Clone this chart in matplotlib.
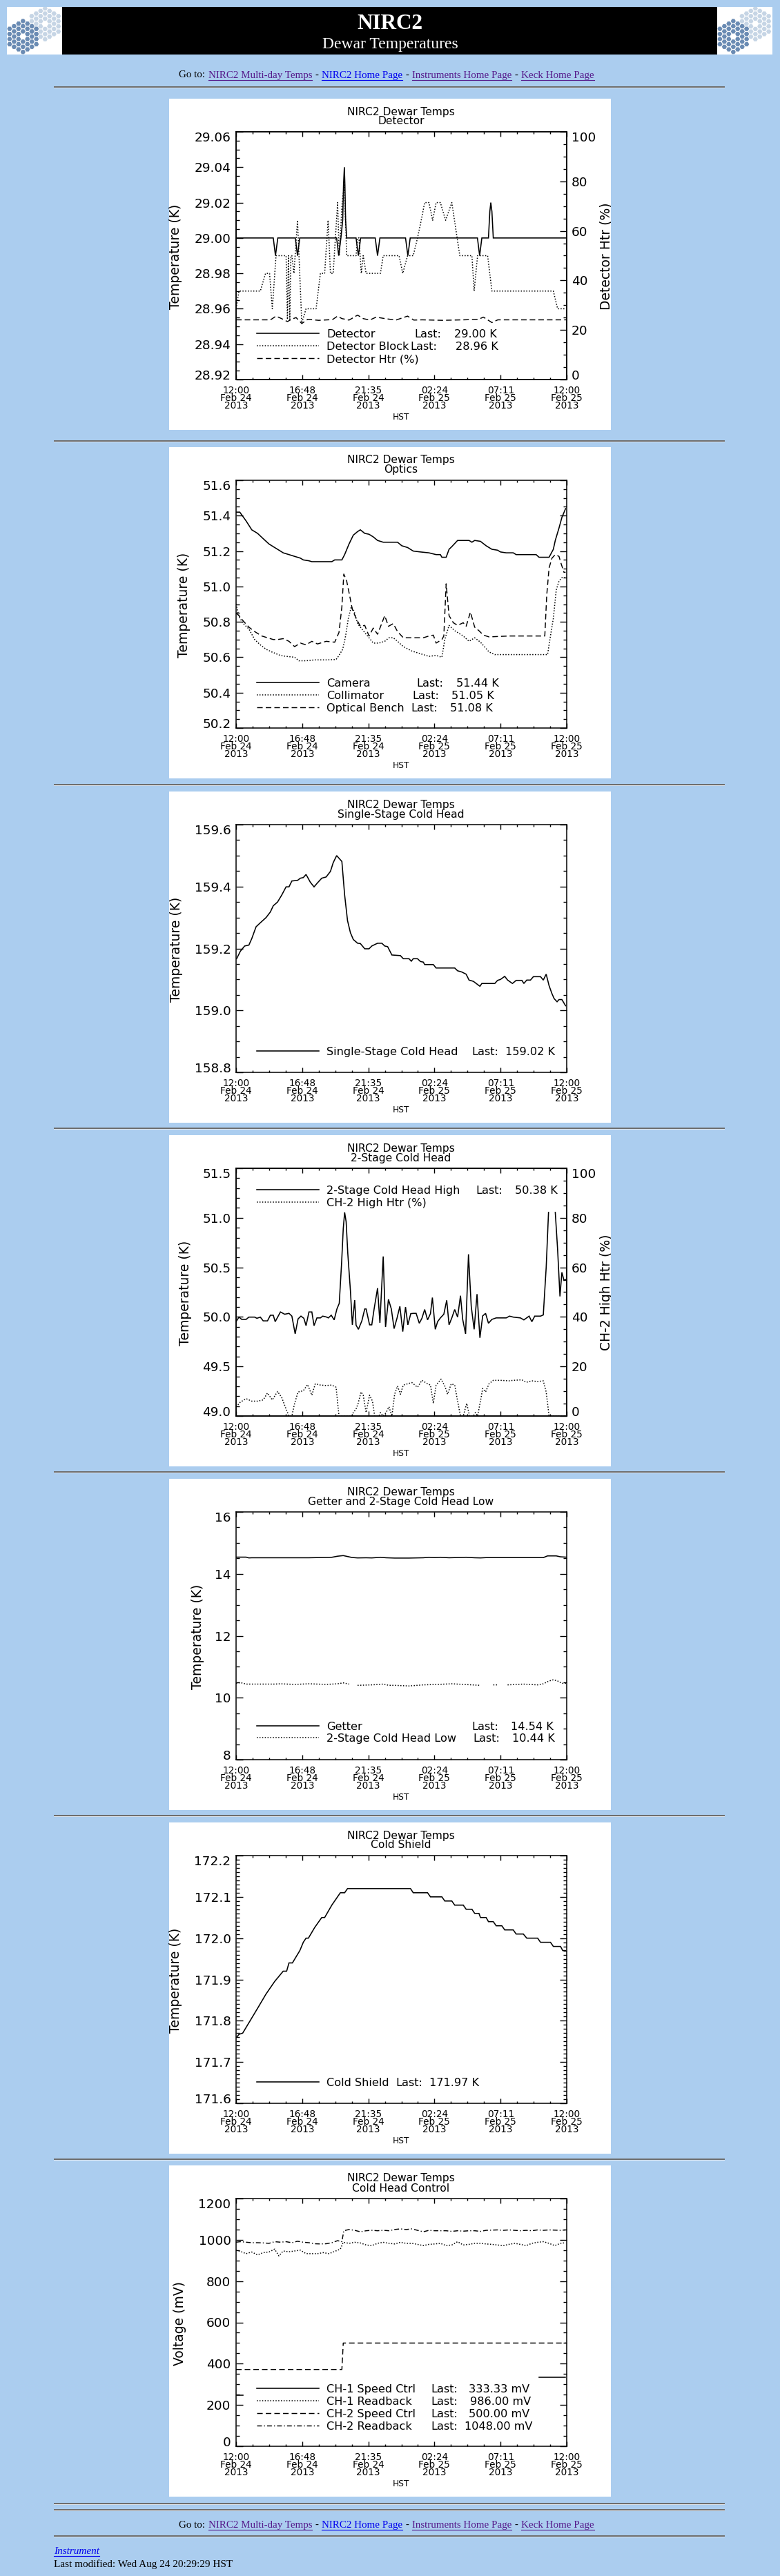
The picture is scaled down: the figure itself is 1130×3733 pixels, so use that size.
import numpy as np
import matplotlib
matplotlib.use('Agg')
import matplotlib.pyplot as plt
from matplotlib.patches import Rectangle, RegularPolygon
from matplotlib.lines import Line2D
from matplotlib.transforms import blended_transform_factory, offset_copy, Bbox, TransformedBbox

nan = np.nan

# time axis: hours after 12:00 HST, Feb 24 2013
xtick_hours = [0, 4.8, 9.6, 14.4, 19.2, 24]
xtick_time = ['12:00', '16:48', '21:35', '02:24', '07:11', '12:00']
xtick_day = ['Feb 24', 'Feb 24', 'Feb 24', 'Feb 25', 'Feb 25', 'Feb 25']
xtick_year = ['2013'] * 6

# ---- readings, (hours, value) ----
detector = [(0, 29.00), (2.70, 29.00), (2.86, 28.99), (3.03, 29.00), (4.30, 29.00), (4.46, 28.99), (4.62, 29.00),
            (7.30, 29.00), (7.45, 28.99), (7.61, 29.00), (7.74, 29.01), (7.80, 29.03), (7.86, 29.04), (7.90, 29.03),
            (7.95, 29.01), (8.03, 29.00), (8.71, 29.00), (8.88, 28.99), (9.04, 29.00), (10.10, 29.00), (10.27, 28.99),
            (10.44, 29.00), (12.30, 29.00), (12.47, 28.99), (12.64, 29.00), (17.52, 29.00), (17.68, 28.99), (17.84, 29.00),
            (18.32, 29.00), (18.42, 29.015), (18.49, 29.02), (18.57, 29.015), (18.67, 29.00), (24.0, 29.00)]
det_block = [(0, 28.96), (0.21, 28.97), (1.76, 28.97), (2.14, 28.98), (2.43, 28.98), (2.63, 28.96), (2.90, 28.99),
             (3.63, 28.99), (3.73, 28.954), (3.80, 28.99), (3.90, 28.954), (3.98, 28.99), (4.05, 28.99), (4.20, 28.98),
             (4.46, 29.01), (4.77, 28.952), (5.08, 28.96), (5.81, 28.96), (6.12, 28.98), (6.43, 28.98), (6.68, 29.01),
             (6.85, 28.98), (7.05, 28.98), (7.37, 29.02), (7.49, 28.99), (7.70, 29.02), (7.86, 29.03), (8.03, 28.99),
             (8.71, 28.99), (8.82, 29.00), (8.92, 29.00), (9.09, 28.98), (9.23, 28.99), (9.44, 28.98), (10.48, 28.98),
             (10.68, 28.99), (11.83, 28.99), (12.10, 28.98), (12.45, 28.99), (12.86, 28.99), (13.17, 29.00), (13.44, 29.01),
             (13.69, 29.02), (14.00, 29.02), (14.27, 29.01), (14.52, 29.02), (14.83, 29.02), (15.21, 29.01), (15.66, 29.02),
             (16.24, 28.99), (17.12, 28.99), (17.28, 28.97), (17.53, 28.99), (18.05, 28.99), (18.26, 28.99), (18.57, 28.97),
             (23.03, 28.97), (23.34, 28.96), (23.96, 28.96)]
det_htr = [(0, 24.1), (2.5, 24.1), (2.9, 25.6), (3.3, 24.6), (3.73, 23.4), (4.05, 24.4), (4.36, 25.0), (4.77, 22.6),
           (5.2, 24.3), (6.0, 23.9), (7.0, 24.2), (7.37, 25.6), (7.68, 24.6), (8.2, 24.0), (8.82, 26.0), (9.23, 24.6),
           (9.7, 24.0), (10.17, 25.2), (10.8, 24.6), (11.6, 24.0), (12.45, 25.6), (12.9, 24.0), (13.5, 24.1), (15.0, 23.9),
           (16.5, 24.1), (17.6, 24.3), (17.95, 25.2), (18.57, 23.0), (19.0, 24.1), (24.0, 24.1)]

camera = [(0, 51.42), (0.27, 51.42), (0.73, 51.37), (1.14, 51.32), (1.56, 51.30), (1.97, 51.27), (2.39, 51.24),
          (2.80, 51.22), (3.22, 51.20), (3.42, 51.19), (3.84, 51.18), (4.25, 51.17), (4.67, 51.16), (4.88, 51.15),
          (5.29, 51.145), (5.50, 51.14), (6.12, 51.14), (6.95, 51.14), (7.16, 51.15), (7.68, 51.15), (7.88, 51.18),
          (8.20, 51.24), (8.51, 51.29), (8.82, 51.31), (9.02, 51.32), (9.34, 51.30), (9.65, 51.295), (9.96, 51.28),
          (10.27, 51.26), (10.68, 51.25), (11.31, 51.25), (11.72, 51.25), (12.03, 51.23), (12.45, 51.22), (12.86, 51.20),
          (13.38, 51.195), (14.00, 51.19), (14.52, 51.18), (14.83, 51.18), (14.94, 51.165), (15.25, 51.165), (15.46, 51.21),
          (15.66, 51.225), (16.08, 51.26), (16.91, 51.26), (17.12, 51.25), (17.32, 51.26), (17.74, 51.255), (18.15, 51.23),
          (18.57, 51.21), (18.98, 51.205), (19.19, 51.195), (19.61, 51.19), (20.12, 51.19), (20.33, 51.18), (21.78, 51.18),
          (21.99, 51.165), (22.72, 51.165), (23.03, 51.21), (23.17, 51.26), (23.44, 51.33), (23.65, 51.39), (23.92, 51.44)]
collimator = [(0, 50.90), (0.21, 50.83), (0.52, 50.79), (0.93, 50.76), (1.35, 50.70), (1.76, 50.67), (2.18, 50.645),
              (2.59, 50.63), (3.22, 50.61), (3.63, 50.605), (4.25, 50.60), (4.56, 50.58), (5.08, 50.58), (5.71, 50.585),
              (6.54, 50.585), (7.26, 50.587), (7.47, 50.61), (7.74, 50.645), (7.95, 50.72), (8.15, 50.82), (8.36, 50.885),
              (8.57, 50.86), (8.82, 50.79), (9.23, 50.75), (9.65, 50.71), (9.96, 50.68), (10.37, 50.68), (10.79, 50.69),
              (11.10, 50.71), (11.41, 50.71), (11.72, 50.69), (12.14, 50.66), (12.76, 50.635), (13.38, 50.62), (14.00, 50.605),
              (14.52, 50.61), (14.94, 50.60), (15.15, 50.70), (15.46, 50.78), (15.87, 50.75), (16.49, 50.72), (16.91, 50.69),
              (17.32, 50.71), (17.74, 50.685), (18.36, 50.63), (18.78, 50.615), (19.81, 50.615), (22.61, 50.615), (22.82, 50.72),
              (23.03, 50.82), (23.24, 50.98), (23.44, 51.03), (23.65, 51.05), (23.92, 51.05)]
optical_bench = [(0, 50.85), (0.21, 50.835), (0.52, 50.805), (0.93, 50.77), (1.35, 50.745), (1.87, 50.72), (2.28, 50.71),
                 (2.70, 50.70), (3.01, 50.70), (3.42, 50.705), (3.84, 50.69), (4.25, 50.66), (4.67, 50.68), (5.08, 50.67),
                 (5.50, 50.69), (5.91, 50.675), (6.54, 50.69), (7.16, 50.685), (7.47, 50.74), (7.68, 50.885), (7.82, 51.07),
                 (8.03, 51.03), (8.24, 50.95), (8.44, 50.87), (8.71, 50.82), (9.02, 50.775), (9.34, 50.78), (9.65, 50.72),
                 (9.96, 50.765), (10.27, 50.73), (10.52, 50.78), (10.79, 50.835), (11.06, 50.775), (11.41, 50.79), (11.72, 50.745),
                 (12.14, 50.71), (12.76, 50.71), (13.59, 50.71), (14.00, 50.72), (14.32, 50.725), (14.52, 50.68), (14.94, 50.70),
                 (15.08, 50.72), (15.25, 51.015), (15.46, 50.835), (15.77, 50.795), (16.08, 50.78), (16.49, 50.795), (16.70, 50.775),
                 (17.01, 50.855), (17.32, 50.77), (17.63, 50.75), (17.95, 50.725), (18.36, 50.715), (19.81, 50.72), (22.41, 50.72),
                 (22.55, 50.95), (22.72, 51.105), (22.93, 51.16), (23.17, 51.18), (23.44, 51.17), (23.59, 51.13), (23.80, 51.08),
                 (23.92, 51.08)]

single_stage = [(0.04, 159.167), (0.31, 159.191), (0.62, 159.208), (0.93, 159.211), (1.14, 159.232), (1.45, 159.27),
                (1.76, 159.283), (2.18, 159.30), (2.49, 159.318), (2.70, 159.338), (3.01, 159.35), (3.32, 159.373),
                (3.63, 159.399), (3.84, 159.399), (4.05, 159.418), (4.46, 159.42), (4.67, 159.427), (4.88, 159.429),
                (5.08, 159.439), (5.39, 159.414), (5.66, 159.399), (5.91, 159.412), (6.22, 159.427), (6.54, 159.431),
                (6.85, 159.449), (7.05, 159.477), (7.30, 159.50), (7.68, 159.481), (7.88, 159.373), (8.09, 159.29),
                (8.30, 159.251), (8.51, 159.229), (8.82, 159.217), (9.02, 159.216), (9.34, 159.199), (9.65, 159.199),
                (9.85, 159.208), (10.27, 159.217), (10.58, 159.217), (10.79, 159.208), (11.00, 159.206), (11.31, 159.179),
                (11.93, 159.177), (12.14, 159.167), (12.55, 159.167), (12.72, 159.159), (12.86, 159.167), (13.17, 159.167),
                (13.38, 159.158), (13.59, 159.156), (13.69, 159.148), (14.32, 159.148), (14.52, 159.137), (15.87, 159.137),
                (16.08, 159.128), (16.39, 159.124), (16.70, 159.117), (16.91, 159.098), (17.22, 159.094), (17.43, 159.087),
                (17.70, 159.078), (17.84, 159.087), (18.78, 159.087), (18.98, 159.097), (19.19, 159.10), (19.50, 159.11),
                (19.71, 159.098), (20.06, 159.087), (20.33, 159.097), (20.75, 159.097), (20.89, 159.087), (21.10, 159.098),
                (21.37, 159.098), (21.58, 159.109), (22.10, 159.109), (22.30, 159.098), (22.51, 159.117), (22.72, 159.08),
                (22.93, 159.054), (23.09, 159.038), (23.30, 159.028), (23.44, 159.035), (23.65, 159.035), (23.92, 159.015)]

two_stage_high = [(0, 49.952), (0.21, 49.998), (0.41, 49.975), (0.73, 49.975), (0.93, 49.998), (1.35, 49.998), (1.51, 49.986),
                  (1.76, 49.998), (1.97, 49.96), (2.28, 49.96), (2.49, 50.017), (2.70, 50.017), (2.84, 49.952), (3.22, 50.05),
                  (3.53, 50.027), (3.84, 50.036), (4.05, 50.008), (4.29, 49.829), (4.50, 49.98), (4.71, 50.008), (4.92, 49.986),
                  (5.08, 49.912), (5.29, 50.05), (5.50, 50.05), (5.66, 49.912), (5.87, 49.99), (6.12, 49.99), (6.29, 50.008),
                  (6.54, 50.0), (6.70, 49.99), (6.91, 50.017), (7.12, 49.97), (7.32, 50.08), (7.49, 50.137), (7.66, 50.544),
                  (7.78, 50.89), (7.88, 51.055), (7.99, 50.96), (8.11, 50.64), (8.30, 50.265), (8.44, 49.92), (8.61, 50.17),
                  (8.71, 49.917), (8.88, 49.875), (9.13, 49.96), (9.34, 50.08), (9.44, 50.08), (9.69, 49.92), (9.85, 49.92),
                  (10.02, 50.08), (10.27, 50.29), (10.44, 49.94), (10.68, 50.61), (10.85, 49.898), (11.06, 50.177), (11.27, 50.08),
                  (11.47, 49.882), (11.68, 49.986), (11.89, 50.107), (12.10, 49.852), (12.30, 50.10), (12.47, 49.92), (12.68, 50.033),
                  (12.88, 50.036), (13.07, 50.036), (13.30, 49.936), (13.49, 49.986), (13.69, 50.075), (13.90, 49.97), (14.11, 50.033),
                  (14.25, 50.195), (14.46, 49.875), (14.63, 49.952), (14.83, 49.99), (15.08, 50.027), (15.29, 50.168), (15.46, 49.92),
                  (15.66, 49.99), (15.87, 50.075), (16.08, 49.998), (16.29, 50.214), (16.45, 49.975), (16.66, 49.829), (16.87, 50.632),
                  (17.07, 50.107), (17.28, 49.875), (17.49, 50.23), (17.70, 49.789), (17.90, 50.01), (18.11, 50.036), (18.32, 49.936),
                  (18.57, 49.975), (18.88, 49.99), (19.61, 49.99), (19.85, 50.008), (20.12, 49.998), (20.64, 49.99), (20.89, 49.97),
                  (21.27, 50.008), (21.47, 49.952), (21.68, 50.008), (22.10, 50.008), (22.30, 50.02), (22.51, 50.498), (22.68, 51.055),
                  (22.90, nan), (23.17, 51.055), (23.34, 50.68), (23.51, 50.207), (23.65, 50.45), (23.80, 50.37), (23.96, 50.38)]
ch2_high_htr = [(0, 3.7), (0.31, 5.6), (0.73, 7.0), (1.14, 6.0), (1.56, 6.0), (1.97, 6.5), (2.28, 9.3), (2.63, 6.5), (3.01, 9.9),
                (3.32, 7.4), (3.63, 2.8), (3.84, 0), (4.05, 0), (4.25, 5.1), (4.50, 9.7), (4.88, 10.2), (5.19, 12.7), (5.50, 8.4),
                (5.75, 13.0), (6.12, 12.5), (6.54, 12.3), (6.95, 12.5), (7.26, 11.6), (7.47, 0), (8.40, 0), (8.51, 1.4), (8.71, 2.8),
                (8.86, 5.1), (9.07, 9.7), (9.23, 8.4), (9.44, 1.4), (9.69, 8.4), (9.90, 6.0), (10.06, 0), (10.37, 0), (10.48, 1.4),
                (10.68, 0), (10.89, 1.4), (11.10, 3.7), (11.31, 0), (11.51, 8.8), (11.72, 12.1), (11.93, 8.8), (12.14, 12.5),
                (12.45, 13.0), (12.76, 13.5), (13.17, 11.6), (13.49, 14.4), (13.90, 13.0), (14.11, 12.5), (14.32, 5.1), (14.52, 12.5),
                (14.88, 14.9), (15.15, 12.1), (15.35, 8.8), (15.62, 13.0), (15.87, 12.5), (16.08, 6.0), (16.29, 0), (16.49, 0),
                (16.74, 5.1), (16.95, 0), (17.22, 0), (17.37, 1.4), (17.53, 0), (17.74, 6.0), (17.90, 11.1), (18.11, 9.7),
                (18.36, 13.0), (18.67, 14.4), (19.19, 14.4), (19.81, 14.2), (20.12, 14.4), (20.75, 14.6), (21.06, 13.6),
                (21.47, 14.2), (21.89, 13.9), (22.30, 14.2), (22.51, 9.7), (22.72, 0), (23.96, 0)]

getter = [(0, 14.54), (0.73, 14.54), (0.93, 14.515), (1.14, 14.52), (5.29, 14.52), (6.95, 14.535), (7.37, 14.57), (7.78, 14.59),
          (8.09, 14.56), (8.40, 14.53), (8.82, 14.515), (9.44, 14.52), (9.85, 14.515), (10.48, 14.535), (10.89, 14.52),
          (11.51, 14.51), (12.55, 14.51), (13.59, 14.52), (14.00, 14.535), (14.42, 14.525), (14.83, 14.535), (15.46, 14.52),
          (16.70, 14.535), (17.32, 14.52), (17.74, 14.515), (18.15, 14.525), (22.30, 14.525), (22.61, 14.58), (23.24, 14.58),
          (23.55, 14.55), (23.96, 14.54)]
two_stage_low = [(0, 10.465), (0.31, 10.49), (0.73, 10.44), (2.80, 10.44), (3.22, 10.45), (4.25, 10.43), (5.29, 10.45),
                 (6.54, 10.43), (7.37, 10.45), (7.78, 10.48), (8.20, 10.44), (8.30, nan), (8.82, 10.40), (9.85, 10.415),
                 (10.68, 10.44), (11.10, 10.40), (11.51, 10.40), (12.55, 10.38), (13.59, 10.415), (14.63, 10.43), (15.66, 10.45),
                 (16.49, 10.43), (17.74, 10.40), (17.90, nan), (18.67, 10.415), (18.98, 10.415), (19.10, nan), (19.71, 10.415),
                 (20.85, 10.44), (21.89, 10.415), (22.30, 10.45), (22.72, 10.54), (23.03, 10.58), (23.34, 10.54), (23.65, 10.465),
                 (23.96, 10.465)]

cold_shield = [(0.04, 171.76), (0.21, 171.767), (0.48, 171.77), (0.93, 171.795), (1.56, 171.83), (2.18, 171.865), (2.80, 171.895),
               (3.42, 171.92), (3.67, 171.92), (3.84, 171.94), (4.09, 171.94), (4.63, 171.97), (4.88, 171.99), (5.08, 172.00),
               (5.25, 172.00), (5.71, 172.026), (6.22, 172.05), (6.43, 172.05), (6.95, 172.08), (7.57, 172.11), (7.88, 172.11),
               (8.09, 172.12), (12.66, 172.12), (12.86, 172.11), (13.90, 172.11), (14.11, 172.10), (14.94, 172.10), (15.15, 172.09),
               (15.66, 172.09), (15.87, 172.08), (16.49, 172.08), (16.70, 172.07), (17.12, 172.07), (17.32, 172.06), (17.63, 172.06),
               (17.74, 172.05), (18.15, 172.05), (18.32, 172.04), (18.67, 172.04), (18.88, 172.03), (19.29, 172.03), (19.50, 172.02),
               (20.12, 172.02), (20.33, 172.01), (20.85, 172.01), (21.10, 172.00), (21.89, 172.00), (22.10, 171.99), (22.82, 171.99),
               (23.03, 171.98), (23.55, 171.98), (23.71, 171.97), (23.92, 171.97)]

ch1_speed = [(0.06, 248), (0.52, 248), (0.60, nan), (21.99, 333.33), (23.92, 333.33)]
ch1_readback = [(0, 949.6), (0.31, 944), (0.73, 933), (1.14, 941), (1.56, 927), (1.97, 938), (2.39, 941), (2.80, 955), (3.11, 922),
                (3.42, 946), (3.84, 942), (4.25, 946), (4.67, 950), (5.08, 933), (5.50, 933), (5.91, 933), (6.33, 938), (6.74, 933),
                (7.16, 944), (7.57, 955), (7.78, 988), (8.20, 983), (8.61, 988), (9.02, 985), (9.44, 975), (9.85, 972), (10.27, 983),
                (10.68, 988), (11.10, 983), (11.51, 980), (11.93, 988), (12.34, 983), (12.76, 983), (13.17, 978), (13.59, 972),
                (14.00, 978), (14.42, 980), (14.83, 983), (15.25, 972), (15.66, 975), (16.08, 991), (16.49, 975), (16.91, 978),
                (17.32, 983), (17.74, 983), (18.15, 980), (18.57, 978), (18.98, 975), (19.40, 972), (19.81, 978), (20.23, 983),
                (20.64, 978), (21.06, 972), (21.47, 983), (21.89, 988), (22.30, 991), (22.72, 983), (23.13, 972), (23.55, 983),
                (23.92, 986)]
ch2_speed = [(0, 372), (7.68, 372), (7.78, 500), (23.96, 500)]
ch2_readback = [(0, 988.5), (0.31, 991), (0.73, 988.5), (1.14, 986), (1.56, 986), (1.97, 985), (2.39, 983), (2.80, 991),
                (3.22, 988.5), (3.63, 991), (4.05, 986), (4.46, 993), (4.88, 988.5), (5.29, 986), (5.71, 981), (6.12, 980),
                (6.54, 981), (6.95, 986), (7.37, 996), (7.68, 991), (7.82, 1044), (8.20, 1050), (8.61, 1046), (9.02, 1039),
                (9.44, 1044), (9.85, 1046), (10.27, 1044), (10.68, 1046), (11.10, 1044), (11.51, 1050), (11.93, 1053),
                (12.34, 1050), (12.76, 1053), (13.17, 1046), (13.59, 1039), (14.00, 1046), (14.42, 1044), (14.83, 1044),
                (15.25, 1044), (15.66, 1041), (16.08, 1044), (16.49, 1042), (16.91, 1044), (17.32, 1044), (17.74, 1041),
                (18.15, 1046), (18.57, 1047), (18.98, 1048), (19.40, 1046), (19.81, 1048), (20.23, 1046), (20.64, 1044),
                (21.06, 1046), (21.47, 1044), (21.89, 1048), (22.30, 1046), (22.72, 1048), (23.13, 1047), (23.55, 1046),
                (23.92, 1048)]

# ---- page layout ----
W, H = 1130, 3733
BG = '#abcdef'
SERIF = 'Liberation Serif'
LINK = '#0000ee'
VISITED = '#551a8b'
PX = 245                      # left edge of every plot image
AX_L, AX_R, AX_T, AX_B = 97, 576, 48, 407
TOPS = [143, 648, 1147, 1645, 2143, 2641, 3138]

SOLID = dict(ls='-', lw=1.15)
DOT = dict(ls=(0, (1.1, 1.7)), lw=1.1)
DASH = dict(ls=(0, (5.8, 3.2)), lw=1.05)
DASHDOT = dict(ls=(0, (5.0, 2.2, 1.0, 2.2)), lw=1.05)

plt.rcParams['font.family'] = 'DejaVu Sans'
plt.rcParams['lines.scale_dashes'] = False

fig = plt.figure(figsize=(W / 100, H / 100), dpi=100, facecolor=BG)


def fx(x):
    return x / W


def fy(y):
    return 1 - y / H


def hr(y):
    fig.add_artist(Rectangle((fx(78), fy(y + 1)), 972 / W, 2 / H, transform=fig.transFigure,
                             facecolor='#6e6e6e', edgecolor='none', zorder=-1))
    fig.add_artist(Rectangle((fx(78), fy(y + 2)), 972 / W, 1 / H, transform=fig.transFigure,
                             facecolor='#dfe6ee', edgecolor='none', zorder=-1))


def logo(x0):
    lax = fig.add_axes([fx(x0), fy(79), 80 / W, 69 / H])
    lax.set_xlim(0, 80)
    lax.set_ylim(69, 0)
    lax.set_facecolor('white')
    lax.set_xticks([])
    lax.set_yticks([])
    for s in lax.spines.values():
        s.set_visible(False)
    for cx, cy, col in ((55.3, 24.5, '#c6d5e5'), (23.3, 42.9, '#6a8bb3')):
        for q in range(-3, 4):
            for r in range(-3, 4):
                d = max(abs(q), abs(r), abs(q + r))
                if d == 0 or d > 3:
                    continue
                x = cx + 4.3 * 1.5 * q
                y = cy + 4.3 * np.sqrt(3) * (r + q / 2)
                lax.add_patch(RegularPolygon((x, y), 6, radius=3.6, orientation=np.pi / 6,
                                             facecolor=col, edgecolor='none'))


def link_row(y_base, y_line):
    pieces = [('Go to:', 'black', False), ('NIRC2 Multi-day Temps', VISITED, True), ('-', 'black', False),
              ('NIRC2 Home Page', LINK, True), ('-', 'black', False), ('Instruments Home Page', VISITED, True),
              ('-', 'black', False), ('Keck Home Page', VISITED, True)]
    r = fig.canvas.get_renderer()
    x = 259
    for txt, col, und in pieces:
        t = fig.text(fx(x), fy(y_base), txt, color=col, fontsize=10.8, family=SERIF, va='baseline')
        w = t.get_window_extent(r).width
        if und:
            fig.add_artist(Line2D([fx(x), fx(x + w)], [fy(y_line)] * 2, color=col, lw=0.8,
                                  transform=fig.transFigure))
        x += w + 4.5


def ytick_text(ax, vals, fmt, dx, ha, xa):
    tr = offset_copy(blended_transform_factory(ax.transAxes, ax.transData), fig=fig, x=dx, y=0, units='dots')
    for i, v in enumerate(vals):
        if i == 0:
            va = 'baseline'
        elif i == len(vals) - 1:
            va = 'top'
        else:
            va = 'center_baseline'
        ax.text(xa, v, fmt % v, transform=tr, ha=ha, va=va, fontsize=13.3)


def style_ticks(ax, axis, major, minor):
    ax.tick_params(axis=axis, which='major', length=major, width=1.0, direction='in')
    ax.tick_params(axis=axis, which='minor', length=minor, width=1.0, direction='in')


def panel(top, subtitle, lo, hi, major, minor, fmt, ylabel, ylab_x, right_label=None):
    fig.add_artist(Rectangle((fx(PX), fy(top + 480)), 640 / W, 480 / H, transform=fig.transFigure,
                             facecolor='white', edgecolor='none', zorder=-1))
    ax = fig.add_axes([fx(PX + AX_L), fy(top + AX_B), (AX_R - AX_L) / W, (AX_B - AX_T) / H])
    ax.set_xlim(0, 24)
    ax.set_ylim(lo, hi)
    for s in ax.spines.values():
        s.set_linewidth(1.1)
    ax.set_xticks(xtick_hours)
    ax.set_xticks(np.arange(0, 24.01, 1.2), minor=True)
    yt = np.arange(lo, hi + major / 2, major)
    ax.set_yticks(yt)
    ax.set_yticks(np.arange(lo, hi + minor / 2, minor), minor=True)
    ax.tick_params(which='both', top=True, bottom=True, left=True, right=right_label is None,
                   labelbottom=False, labelleft=False, labelright=False)
    style_ticks(ax, 'y', 7.2, 3.6)
    style_ticks(ax, 'x', 5.0, 2.5)
    ytick_text(ax, yt, fmt, -7.5, 'right', 0)

    for row, labels in zip((20, 31, 42.3), (xtick_time, xtick_day, xtick_year)):
        tr = offset_copy(blended_transform_factory(ax.transData, ax.transAxes), fig=fig, x=0, y=-row, units='dots')
        for h, lab in zip(xtick_hours, labels):
            ax.text(h, 0, lab, transform=tr, ha='center', va='baseline', fontsize=9.8)

    fig.text(fx(PX + 336), fy(top + 465.3), 'HST', ha='center', va='baseline', fontsize=8.8)
    fig.text(fx(PX + 336), fy(top + 23.5), 'NIRC2 Dewar Temps', ha='center', va='baseline', fontsize=11.2)
    fig.text(fx(PX + 336), fy(top + 37.5), subtitle, ha='center', va='baseline', fontsize=11.2)
    fig.text(fx(PX + ylab_x), fy(top + 229), ylabel, rotation=90, ha='center', va='center', fontsize=13.5)

    ax2 = None
    if right_label is not None:
        ax2 = ax.twinx()
        ax2.set_ylim(0, 100)
        rt = np.arange(0, 101, 20)
        ax2.set_yticks(rt)
        ax2.set_yticks(np.arange(0, 101, 5), minor=True)
        ax2.tick_params(which='both', left=False, right=True, labelright=False)
        style_ticks(ax2, 'y', 7.2, 3.6)
        for s in ax2.spines.values():
            s.set_linewidth(1.1)
        ytick_text(ax2, rt, '%d', 7, 'left', 1)
        t = fig.text(fx(PX + 633.4), fy(top + 228), right_label, rotation=90, ha='center', va='center',
                     fontsize=13.5)
        t.set_clip_box(TransformedBbox(Bbox.from_bounds(fx(PX), fy(top + 480), 640 / W, 480 / H),
                                       fig.transFigure))
        t.set_clip_on(True)
    return ax, ax2


def series(ax, data, style):
    t, v = zip(*data)
    ax.plot(t, v, color='black', solid_joinstyle='miter', **style)


def legend(ax, top, rows):
    for rel_y, style, name, last_x, value, value_x in rows:
        y = (AX_B - rel_y) / (AX_B - AX_T)
        ax.plot([30 / 479, 120 / 479], [y, y], transform=ax.transAxes, clip_on=False, color='black', **style)
        fig.text(fx(PX + 228), fy(top + rel_y), name, va='center_baseline', fontsize=11.6)
        if last_x is not None:
            fig.text(fx(PX + last_x), fy(top + rel_y), 'Last:', va='center_baseline', fontsize=11.6)
            fig.text(fx(PX + value_x), fy(top + rel_y), value, va='center_baseline', fontsize=11.6)


# ---- header ----
fig.add_artist(Rectangle((fx(90), fy(79)), 949 / W, 69 / H, transform=fig.transFigure,
                         facecolor='black', edgecolor='none', zorder=-1))
logo(10)
logo(1039)
fig.text(fx(565), fy(41.7), 'NIRC2', color='white', fontsize=22.5, fontweight='bold', family=SERIF,
         ha='center', va='baseline')
fig.text(fx(565), fy(70), 'Dewar Temperatures', color='white', fontsize=17, family=SERIF,
         ha='center', va='baseline')
link_row(112.5, 115.5)
for y in (126, 639, 1137, 1635, 2133, 2631, 3129, 3628, 3637, 3675):
    hr(y)

# ---- 1: detector ----
top = TOPS[0]
ax, ax2 = panel(top, 'Detector', 28.92, 29.06, 0.02, 0.005, '%.2f', 'Temperature (K)', 9.5, 'Detector Htr (%)')
series(ax, det_block, DOT)
series(ax, detector, SOLID)
series(ax2, det_htr, DASH)
legend(ax, top, [(340, SOLID, 'Detector', 355.6, '29.00 K', 412.8),
                 (358, DOT, 'Detector Block', 349.4, '28.96 K', 414.5),
                 (376, DASH, 'Detector Htr (%)', None, None, None)])

# ---- 2: optics ----
top = TOPS[1]
ax, _ = panel(top, 'Optics', 50.2, 51.6, 0.2, 0.05, '%.1f', 'Temperature (K)', 22)
series(ax, camera, SOLID)
series(ax, collimator, DOT)
series(ax, optical_bench, DASH)
legend(ax, top, [(341, SOLID, 'Camera', 358.5, '51.44 K', 415.7),
                 (358.7, DOT, 'Collimator', 352, '51.05 K', 409),
                 (377, DASH, 'Optical Bench', 350.6, '51.08 K', 407)])

# ---- 3: single-stage cold head ----
top = TOPS[2]
ax, _ = panel(top, 'Single-Stage Cold Head', 158.8, 159.6, 0.2, 0.05, '%.1f', 'Temperature (K)', 10.7)
series(ax, single_stage, SOLID)
legend(ax, top, [(375.7, SOLID, 'Single-Stage Cold Head', 438.5, '159.02 K', 487.4)])

# ---- 4: 2-stage cold head ----
top = TOPS[3]
ax, ax2 = panel(top, '2-Stage Cold Head', 49.0, 51.5, 0.5, 0.1, '%.1f', 'Temperature (K)', 23, 'CH-2 High Htr (%)')
series(ax, two_stage_high, SOLID)
series(ax2, ch2_high_htr, DOT)
legend(ax, top, [(79, SOLID, '2-Stage Cold Head High', 444.7, '50.38 K', 500.7),
                 (96.7, DOT, 'CH-2 High Htr (%)', None, None, None)])

# ---- 5: getter ----
top = TOPS[4]
ax, _ = panel(top, 'Getter and 2-Stage Cold Head Low', 8, 16, 2, 0.5, '%d', 'Temperature (K)', 41)
series(ax, getter, SOLID)
series(ax, two_stage_low, DOT)
legend(ax, top, [(357.7, SOLID, 'Getter', 438.5, '14.54 K', 495.3),
                 (375.3, DOT, '2-Stage Cold Head Low', 440.6, '10.44 K', 496.6)])

# ---- 6: cold shield ----
top = TOPS[5]
ax, _ = panel(top, 'Cold Shield', 171.6, 172.2, 0.1, 0.01, '%.1f', 'Temperature (K)', 9.5)
series(ax, cold_shield, SOLID)
legend(ax, top, [(375.7, SOLID, 'Cold Shield', 328, '171.97 K', 377.2)])

# ---- 7: cold head control ----
top = TOPS[6]
ax, _ = panel(top, 'Cold Head Control', 0, 1200, 200, 50, '%d', 'Voltage (mV)', 15.7)
series(ax, ch1_speed, SOLID)
series(ax, ch1_readback, DOT)
series(ax, ch2_speed, DASH)
series(ax, ch2_readback, DASHDOT)
legend(ax, top, [(322.7, SOLID, 'CH-1 Speed Ctrl', 379.7, '333.33 mV', 434.4),
                 (340.7, DOT, 'CH-1 Readback', 379.7, '986.00 mV', 435.6),
                 (358.7, DASH, 'CH-2 Speed Ctrl', 379.7, '500.00 mV', 434.4),
                 (377, DASHDOT, 'CH-2 Readback', 379.7, '1048.00 mV', 428)])

# ---- footer ----
link_row(3662.7, 3665.5)
t = fig.text(fx(78), fy(3700.7), 'Instrument', color=LINK, fontsize=11, style='italic', family=SERIF, va='baseline')
w = t.get_window_extent(fig.canvas.get_renderer()).width
fig.add_artist(Line2D([fx(78), fx(78 + w)], [fy(3703.5)] * 2, color=LINK, lw=0.8, transform=fig.transFigure))
fig.text(fx(78), fy(3720), 'Last modified: Wed Aug 24 20:29:29 HST', color='black', fontsize=11, family=SERIF,
         va='baseline')

fig.savefig('out.png', dpi=100, facecolor=BG)
